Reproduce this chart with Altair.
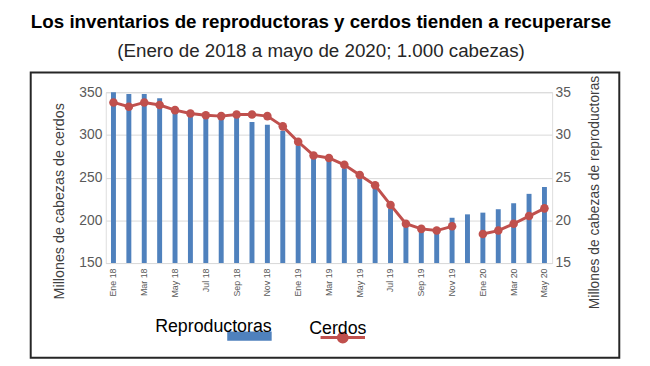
import altair as alt
import pandas as pd

meses = ["Ene", "Feb", "Mar", "Abr", "May", "Jun", "Jul", "Ago", "Sep", "Oct", "Nov", "Dic"]
anios = ["18", "19", "20"]
months = [f"{m} {a}" for a in anios for m in meses][:29]
tick_labels = months[::2]

# Reproductoras (right axis, bars)
reproductoras = [35.0, 34.8, 34.8, 34.3, 33.0, 32.6, 32.3, 32.2, 32.2, 31.5,
                 31.2, 30.5, 28.8, 27.3, 27.0, 26.1, 25.1, 23.7, 21.4, 19.4,
                 18.8, 18.9, 20.3, 20.7, 20.9, 21.3, 22.0, 23.1, 23.9]
# Cerdos (left axis, line) - Dic 19 missing
cerdos = [338, 333, 338, 335, 329, 325, 323, 322, 324, 324,
          322, 310, 292, 276, 273, 265, 253, 241, 218, 196,
          190, 188, 193, None, 184, 188, 196, 205, 214]

left_ticks = [150, 200, 250, 300, 350]
right_ticks = [15, 20, 25, 30, 35]

BLUE = "#4F81BD"
RED = "#C0504D"
FONT = "Liberation Sans"

df = pd.DataFrame({"mes": months, "Reproductoras": reproductoras, "Cerdos": cerdos})

x_enc = alt.X(
    "mes:N", sort=months, title=None,
    scale=alt.Scale(paddingInner=0, paddingOuter=0),
    axis=alt.Axis(values=tick_labels, labelAngle=270, labelFontSize=9,
                  labelColor="#595959", ticks=False, domain=True,
                  domainColor="#D9D9D9", labelPadding=5, grid=False),
)

left_axis = alt.Axis(orient="left", values=left_ticks, grid=True, gridColor="#D9D9D9",
                     ticks=False, domain=False, labelFontSize=14, labelColor="#595959",
                     labelPadding=4, title="Millones de cabezas de cerdos",
                     titleFontSize=14.5, titleFontWeight="normal", titleColor="#404040",
                     titleAngle=270, titleX=-47, titleY=110, titleBaseline="middle",
                     titleAlign="center")

right_axis = alt.Axis(orient="right", values=right_ticks, grid=False, ticks=False,
                      domain=False, labelFontSize=14, labelColor="#595959",
                      labelPadding=3, title="Millones de cabezas de reproductoras",
                      titleFontSize=14, titleFontWeight="normal", titleColor="#404040",
                      titleAngle=270, titleX=43, titleY=101, titleBaseline="middle",
                      titleAlign="center")

base = alt.Chart(df)

bars = base.transform_calculate(serie_b='"Reproductoras"').mark_bar(size=5).encode(
    x=x_enc,
    y=alt.Y("Reproductoras:Q", scale=alt.Scale(domain=[15, 35], zero=False, nice=False),
            axis=right_axis),
    y2=alt.datum(15),
    fill=alt.Fill("serie_b:N",
                  scale=alt.Scale(domain=["Reproductoras"], range=[BLUE]),
                  legend=alt.Legend(title=None, orient="none", legendX=-2, legendY=224.5,
                                    symbolType="M-1,-0.21H1V0.21H-1Z", symbolSize=2025,
                                    symbolStrokeWidth=0, symbolOffset=125, labelOffset=0,
                                    labelAlign="right",
                                    labelFontSize=18, labelColor="black",
                                    labelBaseline="bottom", padding=0, labelFont=FONT)),
)

y_left = alt.Y("Cerdos:Q", scale=alt.Scale(domain=[150, 350], zero=False, nice=False),
               axis=left_axis)

line = base.transform_calculate(serie_c='"Cerdos"').mark_line(strokeWidth=3).encode(
    x=x_enc,
    y=y_left,
    stroke=alt.Stroke("serie_c:N",
                      scale=alt.Scale(domain=["Cerdos"], range=[RED]),
                      legend=alt.Legend(title=None, orient="none", legendX=150, legendY=224.5,
                                        symbolType="M-1,0H1M-0.2,0A0.2,0.2,0,1,0,0.2,0A0.2,0.2,0,1,0,-0.2,0",
                                        symbolSize=2025, symbolStrokeWidth=3,
                                        symbolFillColor=RED, symbolStrokeColor=RED,
                                        symbolOffset=66, labelOffset=0, labelAlign="right",
                                        labelFontSize=18,
                                        labelColor="black", labelBaseline="bottom",
                                        padding=0, labelFont=FONT)),
)

points = base.mark_circle(size=75, color=RED, opacity=1).encode(
    x=x_enc,
    y=y_left,
)

frame = alt.Chart(pd.DataFrame({"k": [0]})).mark_rect(
    filled=False, stroke="#262626", strokeWidth=2
).encode(
    x=alt.value(-76), x2=alt.value(520), y=alt.value(-20), y2=alt.value(269)
)

chart = alt.layer(
    frame, bars, alt.layer(line, points)
).resolve_scale(
    y="independent", fill="independent", stroke="independent"
).properties(
    width=452, height=173,
    autosize=alt.AutoSizeParams(type="none"),
    padding={"left": 99, "top": 83, "right": 91, "bottom": 102},
    title=alt.TitleParams(
        text="Los inventarios de reproductoras y cerdos tienden a recuperarse",
        subtitle="(Enero de 2018 a mayo de 2020; 1.000 cabezas)",
        fontSize=19, fontWeight="bold", font=FONT, color="black",
        subtitleFontSize=19, subtitleFont=FONT, subtitleColor="#262626",
        anchor="middle", frame="group", dx=-8, offset=11, subtitlePadding=10,
    ),
).configure_view(stroke=None).configure(font=FONT)

chart.save("out.html", embed_options={"renderer": "svg", "actions": False})
